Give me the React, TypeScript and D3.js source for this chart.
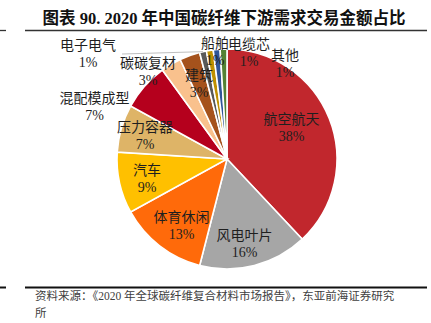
import React from 'react';
import * as d3 from 'd3';

const categories = ['航空航天', '风电叶片', '体育休闲', '汽车', '压力容器', '混配模成型', '碳碳复材', '建筑', '电子电气', '船舶', '电缆芯', '其他'];
const shares = [38, 16, 13, 9, 7, 7, 3, 3, 1, 1, 1, 1];
const pctLabels = ['38%', '16%', '13%', '9%', '7%', '7%', '3%', '3%', '1%', '1%', '1%', '1%'];
const colors = ['#C1272D', '#A6A6A6', '#FF6A0A', '#FFC000', '#DEB467', '#B5001D', '#F9C18D', '#A5521C', '#595959', '#BF9000', '#2F5597', '#548235'];

const title = '图表 90. 2020 年中国碳纤维下游需求交易金额占比';
const sourceLine1 = '资料来源：《2020 年全球碳纤维复合材料市场报告》，东亚前海证券研究';
const sourceLine2 = '所';

// label layout (offset of label block centre from pie centre)
const labelOffsets: [number, number][] = [
  [64.5, -31.5], [17.5, 84.5], [-45.5, 67], [-80, 19.5], [-82, -23], [-132.5, -52.5],
  [-79, -87.5], [-28, -75], [-139, -105], [-12, -107.5], [22, -106], [58, -95.5],
];
const leaderIndex = 8;

const W = 431, H = 323;
const cx = 227, cy = 159, R = 110;
const labelFont = "'Liberation Serif', 'Noto Sans CJK SC', serif";

export default function App() {
  const pie = d3.pie<number>().sort(null).value((d) => d)(shares);
  const arc = d3.arc<d3.PieArcDatum<number>>().innerRadius(0).outerRadius(R);
  const lp = pie[leaderIndex];
  const mid = (lp.startAngle + lp.endAngle) / 2;
  const [ex, ey] = d3.pointRadial(mid, R);
  const [lx, ly] = labelOffsets[leaderIndex];

  return (
    <div style={{ position: 'absolute', left: 0, top: 0 }}>
      <svg width={W} height={H} style={{ display: 'block', background: '#fff' }}>
        <text x={224} y={18.5} textAnchor="middle" dominantBaseline="central"
          style={{ fontFamily: "'Liberation Serif', 'Noto Sans CJK SC', serif", fontWeight: 700, fontSize: 16.5, fill: '#111' }}>
          {title}
        </text>
        <line x1={0} x2={6} y1={30.5} y2={30.5} stroke="#333" strokeWidth={1.3} />
        <line x1={25} x2={427} y1={30.5} y2={30.5} stroke="#333" strokeWidth={1.3} />

        <g transform={`translate(${cx},${cy})`}>
          {pie.map((p, i) => (
            <path key={i} d={arc(p) || ''} fill={colors[i]} stroke="#fff" strokeWidth={1.6} />
          ))}
          <line x1={lx + 34} y1={ly} x2={ex} y2={ey} stroke="#BFBFBF" strokeWidth={1} />
          {pie.map((p, i) => {
            const [dx, dy] = labelOffsets[i];
            return (
              <g key={'l' + i} style={{ fontFamily: labelFont, fontSize: 14, fill: '#1f1f1f' }}>
                <text x={dx} y={dy - 8.5} textAnchor="middle" dominantBaseline="central">{categories[i]}</text>
                <text x={dx} y={dy + 8.5} textAnchor="middle" dominantBaseline="central">{pctLabels[i]}</text>
              </g>
            );
          })}
        </g>

        <line x1={0} x2={6} y1={287.5} y2={287.5} stroke="#111" strokeWidth={2} />
        <line x1={25} x2={427} y1={287.5} y2={287.5} stroke="#111" strokeWidth={2} />
        <text x={35} y={295.5} dominantBaseline="central"
          style={{ fontFamily: labelFont, fontSize: 11.5, fill: '#404040' }}>{sourceLine1}</text>
        <text x={35} y={313} dominantBaseline="central"
          style={{ fontFamily: labelFont, fontSize: 11.5, fill: '#404040' }}>{sourceLine2}</text>
      </svg>
    </div>
  );
}
